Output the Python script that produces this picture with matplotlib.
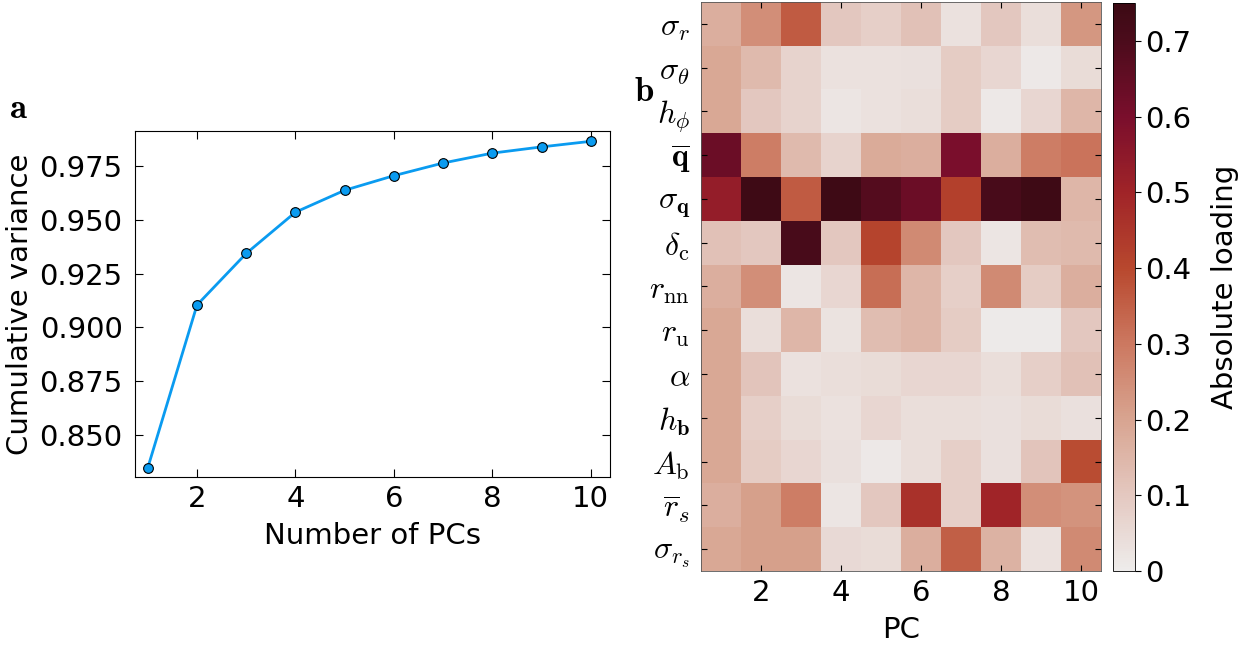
import matplotlib
matplotlib.use('Agg')
import matplotlib.pyplot as plt
from matplotlib.colors import LinearSegmentedColormap
import numpy as np

# ---- data ----
n_pcs = [1, 2, 3, 4, 5, 6, 7, 8, 9, 10]
cum_var = [0.8346, 0.9104, 0.9344, 0.9536, 0.9638, 0.9706, 0.9765, 0.9811, 0.9840, 0.9866]

row_labels = [r'$\sigma_r$', r'$\sigma_\theta$', r'$h_\phi$', r'$\overline{\mathbf{q}}$',
              r'$\sigma_\mathbf{q}$', r'$\delta_\mathrm{c}$', r'$r_\mathrm{nn}$', r'$r_\mathrm{u}$',
              r'$\alpha$', r'$h_\mathbf{b}$', r'$A_\mathrm{b}$', r'$\overline{r}_s$', r'$\sigma_{r_s}$']

loadings = [
    [0.17, 0.25, 0.36, 0.10, 0.08, 0.12, 0.03, 0.10, 0.04, 0.23],   # sigma_r
    [0.19, 0.14, 0.07, 0.03, 0.03, 0.035, 0.09, 0.06, 0.01, 0.045], # sigma_theta
    [0.19, 0.10, 0.07, 0.02, 0.03, 0.04, 0.09, 0.01, 0.06, 0.15],   # h_phi
    [0.63, 0.29, 0.14, 0.07, 0.18, 0.17, 0.60, 0.17, 0.29, 0.31],   # q bar
    [0.53, 0.74, 0.36, 0.74, 0.68, 0.63, 0.42, 0.71, 0.74, 0.15],   # sigma_q
    [0.12, 0.10, 0.71, 0.10, 0.41, 0.26, 0.10, 0.02, 0.13, 0.14],   # delta_c
    [0.17, 0.25, 0.02, 0.06, 0.32, 0.15, 0.08, 0.26, 0.09, 0.17],   # r_nn
    [0.19, 0.04, 0.15, 0.025, 0.13, 0.15, 0.09, 0.005, 0.005, 0.10], # r_u
    [0.19, 0.11, 0.03, 0.04, 0.045, 0.06, 0.06, 0.04, 0.08, 0.12],  # alpha
    [0.19, 0.08, 0.045, 0.03, 0.06, 0.04, 0.04, 0.035, 0.045, 0.035], # h_b
    [0.19, 0.09, 0.06, 0.035, 0.01, 0.04, 0.08, 0.035, 0.11, 0.39], # A_b
    [0.17, 0.21, 0.29, 0.02, 0.10, 0.46, 0.08, 0.50, 0.25, 0.24],   # r_s bar
    [0.19, 0.21, 0.21, 0.05, 0.045, 0.17, 0.35, 0.16, 0.03, 0.26],  # sigma_rs
]

# colormap sampled from the colourbar (amp-like)
cmap_pos = [0.0, 0.133, 0.267, 0.4, 0.533, 0.667, 0.8, 0.933, 1.0]
cmap_hex = ['#eeeceb', '#e4c8c0', '#d8a490', '#cc7860', '#b8482e',
            '#a02428', '#7a0e2c', '#4c0c1c', '#3c0a14']
amp = LinearSegmentedColormap.from_list('amp', list(zip(cmap_pos, cmap_hex)))

plt.rcParams.update({
    'font.family': 'DejaVu Sans',
    'mathtext.fontset': 'cm',
    'font.size': 21,
    'xtick.direction': 'in',
    'ytick.direction': 'in',
})

W, H = 1253, 648
fig = plt.figure(figsize=(W / 100, H / 100), dpi=100)

# ---- panel a ----
ax1 = fig.add_axes([135 / W, 1 - 477 / H, 475 / W, 346 / H])
ax1.plot(n_pcs, cum_var, color='#0a9bf0', lw=2, marker='o', ms=7,
         markerfacecolor='#0a9bf0', markeredgecolor='black', markeredgewidth=0.8)
ax1.set_xlim(0.74, 10.39)
ax1.set_ylim(0.8303, 0.9914)
ax1.set_xticks([2, 4, 6, 8, 10])
ax1.set_yticks([0.850, 0.875, 0.900, 0.925, 0.950, 0.975])
ax1.set_yticklabels(['0.850', '0.875', '0.900', '0.925', '0.950', '0.975'])
ax1.tick_params(top=True, right=True, length=6, labelsize=21)
ax1.tick_params(axis='x', pad=6)
ax1.tick_params(axis='y', pad=9)
ax1.set_xlabel('Number of PCs', fontsize=21, labelpad=6)
ax1.set_ylabel('Cumulative variance', fontsize=21, labelpad=4)
fig.text(9 / W, 1 - 118 / H, r'$\mathbf{a}$', fontsize=25, va='baseline')

# ---- panel b ----
ax2 = fig.add_axes([701 / W, 1 - 571 / H, 400 / W, 569 / H])
im = ax2.imshow(np.array(loadings), cmap=amp, vmin=0, vmax=0.75, aspect='auto',
                extent=(0.5, 10.5, 13.5, 0.5), interpolation='nearest')
ax2.set_xticks([2, 4, 6, 8, 10])
ax2.set_yticks(range(1, 14))
ax2.set_yticklabels(row_labels)
ax2.tick_params(top=True, right=True, length=4, labelsize=21)
ax2.tick_params(axis='x', pad=6)
ax2.tick_params(axis='y', labelsize=23, pad=8)
ax2.set_xlabel('PC', fontsize=21, labelpad=6)
for s in ax2.spines.values():
    s.set_linewidth(0.6)
    s.set_color('#555555')
fig.text(634 / W, 1 - 101 / H, r'$\mathbf{b}$', fontsize=25, va='baseline')

cax = fig.add_axes([1113 / W, 1 - 571 / H, 22 / W, 568 / H])
cb = fig.colorbar(im, cax=cax)
cb.set_ticks([0, 0.1, 0.2, 0.3, 0.4, 0.5, 0.6, 0.7])
cb.set_ticklabels(['0', '0.1', '0.2', '0.3', '0.4', '0.5', '0.6', '0.7'])
cb.ax.tick_params(direction='out', length=4, labelsize=21)
cb.outline.set_linewidth(0.6)
cb.set_label('Absolute loading', fontsize=21, labelpad=14)

fig.savefig('out.png', dpi=100)
